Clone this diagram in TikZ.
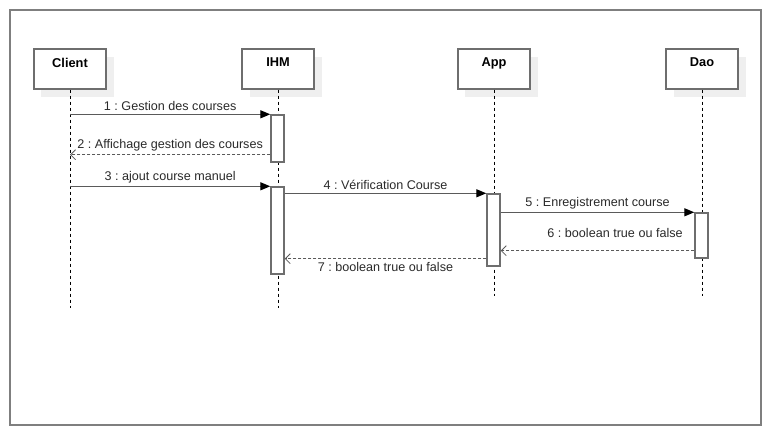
\documentclass[tikz,border=0pt]{standalone}
\usepackage{fontspec}
\setmainfont{Liberation Sans}
\usetikzlibrary{arrows.meta}
\usetikzlibrary{positioning}

\definecolor{framegray}{HTML}{7F7F7F}
\definecolor{boxgray}{HTML}{6E6E6E}
\definecolor{shadowgray}{HTML}{EFEFEF}
\definecolor{linegray}{HTML}{5A5A5A}
\definecolor{txtgray}{HTML}{2A2A2A}

\tikzset{
	lifebox/.style={draw=boxgray, line width=1.4pt, fill=white, minimum width=72pt, minimum height=40pt, inner sep=0pt},
	lifetext/.style={font=\fontsize{12.8}{14}\selectfont\bfseries, text=black, inner sep=0pt},
	lifeline/.style={black, line width=0.8pt, dash pattern=on 3pt off 3pt},
	actbox/.style={draw=boxgray, line width=1.4pt, fill=white, minimum width=13pt, inner sep=0pt},
	msg/.style={linegray, line width=1.3pt, -{Triangle[length=10pt,width=8pt,fill=black,color=black]}},
	ret/.style={linegray, line width=1.3pt, dash pattern=on 3pt off 2pt, -{Straight Barb[length=5pt,width=10pt,line width=0.8pt]}},
	msgtext/.style={font=\fontsize{12.6}{14}\selectfont, text=txtgray, inner sep=3pt}
}

\begin{document}
\frenchspacing
\begin{tikzpicture}[x=1pt,y=-1pt]

	\useasboundingbox (0,0) rectangle (765,430);

	%outer frame
	\draw[framegray, line width=1.6pt] (10,10) rectangle (761,425);

	%lifeline heads with shadows
	\fill[shadowgray] (41,57) rectangle (114,97);
	\fill[shadowgray] (250,57) rectangle (322,97);
	\fill[shadowgray] (465,57) rectangle (538,97);
	\fill[shadowgray] (674,57) rectangle (746,97);
	\node[lifebox] (client) at (70,69) {};
	\node[lifebox] (ihm) at (278,69) {};
	\node[lifebox] (app) at (494,69) {};
	\node[lifebox] (dao) at (702,69) {};
	\node[lifetext, below=9.5pt of client.north] (clientname) {Client};
	\node[lifetext, below=9.5pt of ihm.north] (ihmname) {IHM};
	\node[lifetext, below=9.5pt of app.north] (appname) {App};
	\node[lifetext, below=9.5pt of dao.north] (daoname) {Dao};

	%lifelines
	\coordinate (clientend) at (70,308);
	\coordinate (ihmend) at (278,308);
	\coordinate (append) at (494,296);
	\coordinate (daoend) at (702,296);
	\draw[lifeline] (client.south) -- (clientend);
	\draw[lifeline] (ihm.south) -- (ihmend);
	\draw[lifeline] (app.south) -- (append);
	\draw[lifeline] (dao.south) -- (daoend);

	%activation bars
	\node[actbox, minimum height=47pt] (ihmact1) at (277.5,138.5) {};
	\node[actbox, minimum height=87pt] (ihmact2) at (277.5,230.5) {};
	\node[actbox, minimum height=72pt] (appact) at (493.5,230) {};
	\node[actbox, minimum height=45pt] (daoact) at (701.5,235.5) {};

	%return points
	\coordinate (ret2) at ([yshift=8pt]ihmact1.south west);
	\coordinate (ret6) at ([yshift=8pt]daoact.south west);
	\coordinate (ret7) at ([yshift=8pt]appact.south west);

	%messages
	\draw[msg] (client.south |- ihmact1.north west) -- (ihmact1.north west)
		node[msgtext, midway, above] {1 : Gestion des courses};
	\draw[ret] (ret2) -- (client.south |- ret2)
		node[msgtext, midway, above] {2 : Affichage gestion des courses};
	\draw[msg] (client.south |- ihmact2.north west) -- (ihmact2.north west)
		node[msgtext, midway, above] {3 : ajout course manuel};
	\draw[msg] (ihmact2.east |- appact.north) -- (appact.north west)
		node[msgtext, midway, above] {4 : Vérification Course};
	\draw[msg] (appact.east |- daoact.north) -- (daoact.north west)
		node[msgtext, midway, above] {5 : Enregistrement course};
	\draw[ret] (ret6) -- (appact.east |- ret6)
		node[msgtext, at start, anchor=south east, xshift=-8pt, yshift=9pt] {6 : boolean true ou false};
	\draw[ret] (ret7) -- (ihmact2.east |- ret7)
		node[msgtext, midway, below] {7 : boolean true ou false};

\end{tikzpicture}
\end{document}
